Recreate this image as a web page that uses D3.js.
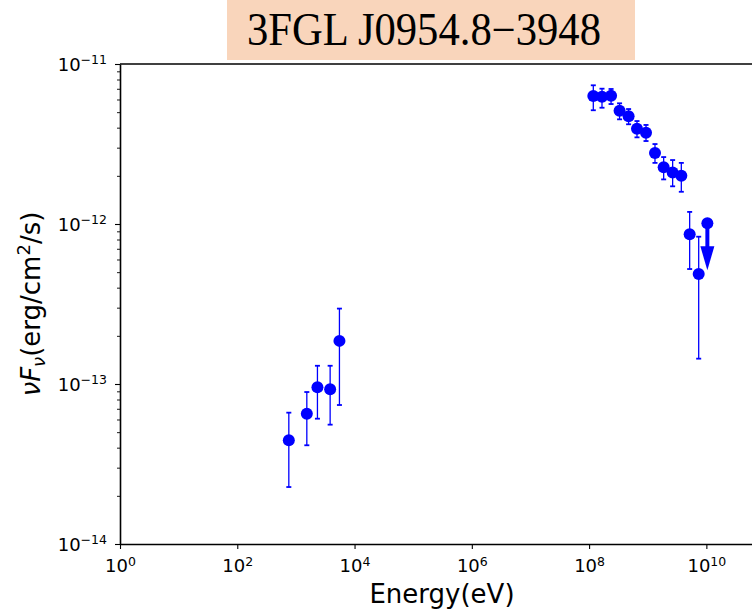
<!DOCTYPE html>
<html>
<head>
<meta charset="utf-8">
<script src="https://cdn.jsdelivr.net/npm/d3@7"></script>
<style>
  body { margin: 0; background: #fff; }
  svg { display: block; font-family: "DejaVu Sans", sans-serif; }
</style>
</head>
<body>
<svg id="sed" width="752" height="609"></svg>
<script>
(function() {
  var width = 752,
    height = 609;

  // X-ray band (energy in eV, nuFnu in erg/cm2/s)
  var xrayEnergy = [757, 1535, 2329, 3835, 5525];
  var xrayFlux = [4.45e-14, 6.52e-14, 9.53e-14, 9.27e-14, 1.86e-13];
  var xrayHigh = [6.62e-14, 8.91e-14, 1.30e-13, 1.30e-13, 2.96e-13];
  var xrayLow = [2.27e-14, 4.14e-14, 6.07e-14, 5.57e-14, 7.39e-14];

  // Fermi-LAT band
  var gammaEnergy = [1.18e8, 1.66e8, 2.37e8, 3.31e8, 4.72e8, 6.56e8, 9.35e8,
    1.33e9, 1.87e9, 2.66e9, 3.74e9, 5.19e9, 7.40e9];
  var gammaFlux = [6.31e-12, 6.25e-12, 6.34e-12, 5.11e-12, 4.71e-12, 3.94e-12, 3.72e-12,
    2.78e-12, 2.26e-12, 2.10e-12, 2.00e-12, 8.63e-13, 4.87e-13];
  var gammaHigh = [7.36e-12, 7.01e-12, 6.98e-12, 5.68e-12, 5.23e-12, 4.40e-12, 4.16e-12,
    3.16e-12, 2.62e-12, 2.51e-12, 2.41e-12, 1.19e-12, 8.33e-13];
  var gammaLow = [5.14e-12, 5.33e-12, 5.62e-12, 4.51e-12, 4.20e-12, 3.48e-12, 3.30e-12,
    2.41e-12, 1.90e-12, 1.72e-12, 1.59e-12, 5.23e-13, 1.44e-13];

  // upper limit
  var limitEnergy = [1.04e10];
  var limitFlux = [1.01e-12];

  // tick labels
  var xTicks = [1e0, 1e2, 1e4, 1e6, 1e8, 1e10];
  var yTicks = [1e-14, 1e-13, 1e-12, 1e-11];

  var title = "3FGL J0954.8\u22123948";

  var points = [];
  xrayEnergy.forEach(function(e, i) {
    points.push({ e: e, f: xrayFlux[i], hi: xrayHigh[i], lo: xrayLow[i] });
  });
  gammaEnergy.forEach(function(e, i) {
    points.push({ e: e, f: gammaFlux[i], hi: gammaHigh[i], lo: gammaLow[i] });
  });

  // scales
  var x = d3.scaleLog()
    .domain([1e0, 1e11])
    .range([120, 765]);

  var y = d3.scaleLog()
    .domain([1e-14, 1e-11])
    .range([544, 64]);

  var svg = d3.select("#sed");

  svg.append("rect")
    .attr("width", width)
    .attr("height", height)
    .attr("fill", "#fff");

  // title box
  svg.append("rect")
    .attr("x", 227)
    .attr("y", 0)
    .attr("width", 408)
    .attr("height", 60)
    .attr("fill", "#f9d5bb");

  svg.append("text")
    .attr("x", 247)
    .attr("y", 45)
    .attr("font-family", "Liberation Serif, Times New Roman, serif")
    .attr("font-size", 46)
    .attr("textLength", 354)
    .attr("lengthAdjust", "spacingAndGlyphs")
    .attr("fill", "#000")
    .text(title);

  function supLabel(sel, d) {
    var exp = Math.round(Math.log10(d));
    sel.text(null);
    sel.append("tspan").text("10");
    sel.append("tspan")
      .attr("font-size", 12.5)
      .attr("dy", -6.5)
      .text(String(exp).replace("-", "\u2212"));
  }

  // y minor ticks
  var minor = [];
  for (var p = -14; p < -11; p++) {
    for (var m = 2; m <= 9; m++) minor.push(m * Math.pow(10, p));
  }
  svg.append("g")
    .attr("transform", "translate(120,0)")
    .call(d3.axisLeft(y).tickValues(minor).tickSize(3).tickSizeOuter(0).tickFormat(""))
    .call(g => g.select(".domain").remove())
    .selectAll("line").attr("stroke", "#000").attr("stroke-width", 0.9);

  // y axis
  var yAxis = svg.append("g")
    .attr("transform", "translate(120,0)")
    .call(d3.axisLeft(y).tickValues(yTicks).tickSize(5).tickSizeOuter(0));
  yAxis.select(".domain").attr("stroke", "#000").attr("stroke-width", 1.6);
  yAxis.selectAll(".tick line").attr("stroke-width", 1.1);
  yAxis.selectAll(".tick text")
    .attr("font-family", "DejaVu Sans")
    .attr("font-size", 18)
    .attr("fill", "#000")
    .attr("x", -13)
    .attr("dy", 6)
    .each(function(d) { supLabel(d3.select(this), d); });

  // x axis
  var xAxis = svg.append("g")
    .attr("transform", "translate(0,544)")
    .call(d3.axisBottom(x).tickValues(xTicks).tickSize(5).tickSizeOuter(0));
  xAxis.select(".domain").attr("stroke", "#000").attr("stroke-width", 1.6);
  xAxis.selectAll(".tick line").attr("stroke-width", 1.1);
  xAxis.selectAll(".tick text")
    .attr("font-family", "DejaVu Sans")
    .attr("font-size", 18)
    .attr("fill", "#000")
    .attr("y", 28)
    .attr("dy", 0)
    .each(function(d) { supLabel(d3.select(this), d); });

  // top and right spines
  svg.append("line")
    .attr("x1", 120).attr("x2", 765)
    .attr("y1", 64).attr("y2", 64)
    .attr("stroke", "#000").attr("stroke-width", 1.6);
  svg.append("line")
    .attr("x1", 765).attr("x2", 765)
    .attr("y1", 64).attr("y2", 544)
    .attr("stroke", "#000").attr("stroke-width", 1.6);

  // axis titles
  svg.append("text")
    .attr("x", 442)
    .attr("y", 603)
    .attr("text-anchor", "middle")
    .attr("font-size", 26)
    .attr("fill", "#000")
    .text("Energy(eV)");

  var yl = svg.append("text")
    .attr("transform", "translate(40,304) rotate(-90)")
    .attr("text-anchor", "middle")
    .attr("font-size", 26)
    .attr("fill", "#000");
  yl.append("tspan").attr("font-style", "italic").text("\u03bdF");
  yl.append("tspan").attr("font-style", "italic").attr("font-size", 18).attr("dy", 5).text("\u03bd");
  yl.append("tspan").attr("dy", -5).text("(erg/cm");
  yl.append("tspan").attr("font-size", 18).attr("dy", -10).text("2");
  yl.append("tspan").attr("dy", 10).text("/s)");

  // error bars
  var err = svg.append("g")
    .attr("stroke", "#0000ff")
    .attr("fill", "none");

  err.selectAll(".bar")
    .data(points)
    .enter()
    .append("line")
    .attr("x1", d => x(d.e))
    .attr("x2", d => x(d.e))
    .attr("y1", d => y(d.hi))
    .attr("y2", d => y(d.lo))
    .attr("stroke-width", 1.3);

  ["hi", "lo"].forEach(function(k) {
    err.selectAll(".cap-" + k)
      .data(points)
      .enter()
      .append("line")
      .attr("x1", d => x(d.e) - 2.5)
      .attr("x2", d => x(d.e) + 2.5)
      .attr("y1", d => y(d[k]))
      .attr("y2", d => y(d[k]))
      .attr("stroke-width", 1.8);
  });

  // markers
  svg.append("g")
    .selectAll("circle")
    .data(points)
    .enter()
    .append("circle")
    .attr("cx", d => x(d.e))
    .attr("cy", d => y(d.f))
    .attr("r", 6)
    .attr("fill", "#0000ff");

  // upper limit with arrow
  var ul = svg.append("g")
    .selectAll("g")
    .data(limitEnergy.map((e, i) => ({ e: e, f: limitFlux[i] })))
    .enter()
    .append("g")
    .attr("transform", d => `translate(${x(d.e)},${y(d.f)})`);

  ul.append("line")
    .attr("x1", 0).attr("x2", 0)
    .attr("y1", 0).attr("y2", 28)
    .attr("stroke", "#0000ff")
    .attr("stroke-width", 4);

  ul.append("path")
    .attr("d", "M-7,23 L7,23 L0,47 Z")
    .attr("fill", "#0000ff");

  ul.append("circle")
    .attr("r", 6)
    .attr("fill", "#0000ff");
})();
</script>
</body>
</html>
